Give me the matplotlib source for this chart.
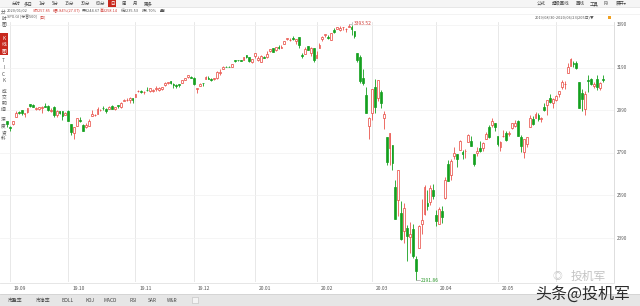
import matplotlib
matplotlib.use("Agg")
import matplotlib.pyplot as plt
from matplotlib.patches import Rectangle

plt.rcParams['font.family'] = ['Noto Sans CJK SC', 'DejaVu Sans']

# ---------------- data (S&P 500 daily, 2019/08/30 - 2020/06/23) ----------------
dates = [
 "2019-08-30",
 "2019-09-03","2019-09-04","2019-09-05","2019-09-06","2019-09-09","2019-09-10","2019-09-11","2019-09-12","2019-09-13","2019-09-16",
 "2019-09-17","2019-09-18","2019-09-19","2019-09-20","2019-09-23","2019-09-24","2019-09-25","2019-09-26","2019-09-27","2019-09-30",
 "2019-10-01","2019-10-02","2019-10-03","2019-10-04","2019-10-07","2019-10-08","2019-10-09","2019-10-10","2019-10-11","2019-10-14",
 "2019-10-15","2019-10-16","2019-10-17","2019-10-18","2019-10-21","2019-10-22","2019-10-23","2019-10-24","2019-10-25","2019-10-28",
 "2019-10-29","2019-10-30","2019-10-31",
 "2019-11-01","2019-11-04","2019-11-05","2019-11-06","2019-11-07","2019-11-08","2019-11-11","2019-11-12","2019-11-13","2019-11-14",
 "2019-11-15","2019-11-18","2019-11-19","2019-11-20","2019-11-21","2019-11-22","2019-11-25","2019-11-26","2019-11-27","2019-11-29",
 "2019-12-02","2019-12-03","2019-12-04","2019-12-05","2019-12-06","2019-12-09","2019-12-10","2019-12-11","2019-12-12","2019-12-13",
 "2019-12-16","2019-12-17","2019-12-18","2019-12-19","2019-12-20","2019-12-23","2019-12-24","2019-12-26","2019-12-27","2019-12-30",
 "2019-12-31",
 "2020-01-02","2020-01-03","2020-01-06","2020-01-07","2020-01-08","2020-01-09","2020-01-10","2020-01-13","2020-01-14","2020-01-15",
 "2020-01-16","2020-01-17","2020-01-21","2020-01-22","2020-01-23","2020-01-24","2020-01-27","2020-01-28","2020-01-29","2020-01-30",
 "2020-01-31",
 "2020-02-03","2020-02-04","2020-02-05","2020-02-06","2020-02-07","2020-02-10","2020-02-11","2020-02-12","2020-02-13","2020-02-14",
 "2020-02-18","2020-02-19","2020-02-20","2020-02-21","2020-02-24","2020-02-25","2020-02-26","2020-02-27","2020-02-28",
 "2020-03-02","2020-03-03","2020-03-04","2020-03-05","2020-03-06","2020-03-09","2020-03-10","2020-03-11","2020-03-12","2020-03-13",
 "2020-03-16","2020-03-17","2020-03-18","2020-03-19","2020-03-20","2020-03-23","2020-03-24","2020-03-25","2020-03-26","2020-03-27",
 "2020-03-30","2020-03-31",
 "2020-04-01","2020-04-02","2020-04-03","2020-04-06","2020-04-07","2020-04-08","2020-04-09","2020-04-13","2020-04-14","2020-04-15",
 "2020-04-16","2020-04-17","2020-04-20","2020-04-21","2020-04-22","2020-04-23","2020-04-24","2020-04-27","2020-04-28","2020-04-29",
 "2020-04-30",
 "2020-05-01","2020-05-04","2020-05-05","2020-05-06","2020-05-07","2020-05-08","2020-05-11","2020-05-12","2020-05-13","2020-05-14",
 "2020-05-15","2020-05-18","2020-05-19","2020-05-20","2020-05-21","2020-05-22","2020-05-26","2020-05-27","2020-05-28","2020-05-29",
 "2020-06-01","2020-06-02","2020-06-03","2020-06-04","2020-06-05","2020-06-08","2020-06-09","2020-06-10","2020-06-11","2020-06-12",
 "2020-06-15","2020-06-16","2020-06-17","2020-06-18","2020-06-19","2020-06-22","2020-06-23",
]

opens = [
 2937,
 2910,2924,2960,2980,2989,2971,2982,3019,3013,2996,2996,3001,3011,3008,2984,3003,2969,2985,2986,2967,
 2984,2925,2885,2918,2945,2920,2912,2918,2963,2966,2974,2990,3001,2996,2997,3011,2995,3014,3004,3033,3037,3039,3047,
 3051,3078,3080,3075,3087,3082,3081,3089,3084,3091,3107,3117,3127,3114,3109,3112,3117,3134,3145,3147,
 3143,3088,3104,3120,3135,3141,3135,3135,3141,3166,3183,3195,3195,3192,3224,3227,3225,3227,3247,3240,3215,
 3245,3226,3218,3241,3238,3266,3281,3271,3285,3282,3302,3324,3321,3330,3316,3334,3248,3256,3290,3257,3283,
 3236,3280,3324,3344,3335,3318,3366,3370,3365,3379,3370,3380,3380,3360,3258,3239,3140,3063,2916,
 2975,3097,3045,3076,2955,2863,2814,2825,2631,2570,2509,2425,2437,2394,2431,2291,2345,2458,2501,2556,2559,2614,
 2499,2458,2515,2579,2739,2685,2777,2783,2805,2796,2799,2843,2845,2784,2787,2811,2813,2854,2909,2919,2931,
 2869,2815,2868,2884,2879,2908,2915,2940,2865,2794,2830,2913,2948,2953,2969,2948,3004,3016,3046,3025,
 3038,3065,3098,3112,3163,3199,3213,3213,3123,3072,2994,3131,3137,3102,3136,3095,3138,
]

highs = [
 2940,
 2914,2939,2985,2985,2990,2979,3001,3021,3017,3003,3006,3008,3022,3016,2999,3008,2990,2988,2988,2983,
 2993,2925,2911,2953,2959,2925,2929,2948,2993,2972,3003,2997,3009,3000,3008,3015,3005,3016,3027,3044,3048,3050,3047,
 3067,3085,3083,3079,3098,3094,3088,3103,3098,3098,3121,3124,3127,3119,3111,3113,3133,3142,3155,3150,
 3145,3095,3120,3120,3150,3149,3143,3143,3176,3182,3198,3198,3199,3206,3226,3227,3226,3240,3248,3241,3232,
 3258,3246,3247,3244,3267,3275,3283,3288,3295,3298,3317,3330,3329,3337,3326,3334,3258,3285,3293,3286,3283,
 3268,3306,3338,3348,3341,3353,3376,3381,3385,3381,3375,3394,3389,3361,3260,3247,3182,3098,2960,
 3091,3137,3130,3083,2985,2864,2883,2825,2660,2711,2563,2553,2453,2467,2454,2307,2449,2571,2638,2616,2638,2642,
 2522,2534,2539,2676,2757,2761,2819,2783,2852,2801,2807,2880,2868,2785,2815,2844,2843,2887,2922,2954,2931,
 2869,2844,2898,2892,2892,2932,2945,2945,2875,2852,2865,2968,2964,2980,2979,2957,3022,3036,3068,3049,
 3063,3081,3131,3129,3212,3233,3223,3223,3123,3089,3079,3154,3142,3121,3156,3121,3155,
]

lows = [
 2913,
 2891,2921,2960,2972,2966,2958,2978,3003,3003,2991,2993,2979,3004,2985,2983,2957,2957,2970,2946,2967,
 2938,2874,2856,2918,2935,2892,2907,2917,2963,2963,2974,2986,2992,2977,2995,2995,2992,3001,3002,3033,3035,3026,3023,
 3051,3074,3072,3065,3080,3074,3076,3082,3079,3084,3104,3113,3114,3092,3094,3099,3117,3133,3143,3139,
 3110,3070,3102,3104,3135,3135,3126,3134,3138,3157,3183,3191,3191,3192,3216,3222,3220,3227,3235,3216,3213,
 3236,3222,3215,3233,3236,3264,3261,3268,3278,3280,3302,3318,3316,3320,3302,3281,3234,3256,3272,3243,3214,
 3236,3280,3314,3333,3323,3318,3353,3369,3361,3367,3356,3379,3341,3328,3214,3118,3108,2977,2855,
 2946,2977,3034,2999,2901,2734,2735,2707,2478,2493,2380,2367,2281,2320,2295,2192,2345,2407,2500,2520,2545,2571,
 2447,2455,2460,2574,2657,2663,2762,2722,2805,2761,2764,2842,2820,2728,2776,2794,2800,2854,2860,2913,2892,
 2822,2798,2863,2847,2870,2902,2912,2869,2794,2767,2815,2913,2922,2953,2939,2934,2988,2969,3024,2999,
 3031,3052,3090,3090,3163,3196,3193,3182,2999,2984,2966,3077,3108,3094,3083,3085,3123,
]

closes = [
 2926,
 2906,2938,2976,2979,2978,2979,3001,3010,3007,2998,3006,3007,3007,2992,2992,2967,2985,2978,2962,2977,
 2940,2888,2911,2952,2939,2893,2919,2938,2970,2966,2996,2990,2998,2986,3007,2996,3005,3010,3023,3039,3037,3047,3038,
 3067,3078,3075,3077,3085,3093,3087,3092,3094,3097,3120,3122,3120,3108,3104,3110,3134,3141,3154,3141,
 3114,3093,3113,3117,3146,3136,3133,3142,3169,3169,3191,3193,3191,3205,3221,3224,3223,3240,3240,3221,3231,
 3258,3235,3246,3237,3253,3275,3265,3288,3283,3289,3317,3330,3321,3322,3326,3295,3244,3276,3273,3284,3226,
 3249,3298,3335,3346,3328,3352,3358,3379,3374,3380,3370,3386,3373,3338,3226,3128,3116,2979,2954,
 3090,3003,3130,3024,2972,2747,2882,2741,2481,2711,2386,2529,2398,2409,2305,2237,2447,2476,2630,2541,2627,2585,
 2471,2527,2489,2664,2659,2750,2790,2762,2846,2783,2800,2875,2823,2737,2799,2798,2837,2878,2863,2940,2912,
 2831,2843,2868,2848,2881,2930,2930,2870,2820,2853,2864,2954,2923,2972,2949,2955,2992,3036,3030,3044,
 3056,3081,3123,3112,3194,3232,3207,3190,3002,3041,3067,3125,3113,3115,3098,3118,3131,
]

month_labels = ["19.09", "19.10", "19.11", "19.12", "20.01", "20.02", "20.03", "20.04", "20.05"]
y_ticks = [3390, 3190, 2990, 2790, 2590, 2390]
high_label = "3393.52"
low_label = "2191.86"

# ---------------- figure ----------------
W, H = 640, 306
fig = plt.figure(figsize=(W / 100, H / 100), dpi=100)
fig.patch.set_facecolor("white")

def fx(px):
    return px / W

def fy(py):
    return 1 - py / H

# main axes: pixel box x 0..614, y 22..282
ax_l, ax_r, ax_t, ax_b = 0, 614, 22, 282
ax = fig.add_axes([fx(ax_l), fy(ax_b), fx(ax_r - ax_l), (ax_b - ax_t) / H])
ax.set_facecolor("white")
step = 2.92
x0 = 7
ax.set_xlim(-x0 / step, (ax_r - x0) / step)
ax.set_ylim(3390 - (ax_b - 25) / 0.213, 3390 + (25 - ax_t) / 0.213)
for s in ax.spines.values():
    s.set_visible(False)
ax.set_xticks([])
ax.set_yticks([])

n = len(dates)
xs = list(range(n))

# month grid lines
month_idx = []
prev = dates[0][:7]
for i, d in enumerate(dates):
    if d[:7] != prev:
        month_idx.append(i)
        prev = d[:7]
for i in month_idx:
    ax.axvline(i, color="#e4e4e4", lw=0.6, zorder=0)
for yv in y_ticks:
    ax.axhline(yv, color="#f1f1f1", lw=0.5, zorder=0)

up_c = "#e8453c"
dn_c = "#14a01e"
bw = 0.62
for i in xs:
    o, h, l, c = opens[i], highs[i], lows[i], closes[i]
    if c >= o:
        ax.vlines(i, l, h, color=up_c, lw=0.55, zorder=2)
        ax.add_patch(Rectangle((i - bw / 2, o), bw, max(c - o, 0.8),
                               facecolor="white", edgecolor=up_c, lw=0.5, zorder=3))
    else:
        ax.vlines(i, l, h, color=dn_c, lw=0.6, zorder=2)
        ax.add_patch(Rectangle((i - bw / 2, c), bw, max(o - c, 0.8),
                               facecolor=dn_c, edgecolor=dn_c, lw=0.5, zorder=3))

# high / low annotations
ih = max(xs, key=lambda k: highs[k])
il = min(xs, key=lambda k: lows[k])
ax.plot([ih, ih + 1.2, ih + 1.2], [highs[ih], highs[ih], highs[ih] + 8], color="#999999", lw=0.4, zorder=4)
ax.text(ih + 1.8, highs[ih] + 2, high_label, fontsize=3.6, color="#d0403a", va="center", ha="left")
ax.plot([il, il + 1.3], [lows[il], lows[il]], color="#8a8a8a", lw=0.4, zorder=4)
ax.text(il + 1.7, lows[il], low_label, fontsize=3.6, color="#2f9a2f", va="center", ha="left")

# x labels (month starts)
for k, i in enumerate(month_idx[:len(month_labels)]):
    px = x0 + step * i
    fig.text(fx(px + 4), fy(288), month_labels[k], fontsize=3.6, color="#555555", va="center", ha="left")

# right axis labels & separator
fig.add_artist(plt.Line2D([fx(614), fx(614)], [fy(282), fy(22)], color="#d8d8d8", lw=0.6))
for yv in y_ticks:
    py = 25 + (3390 - yv) * 0.213
    fig.text(fx(617), fy(py), str(yv), fontsize=3.3, color="#555555", va="center", ha="left")
fig.add_artist(plt.Line2D([fx(0), fx(614)], [fy(282.5), fy(282.5)], color="#e2e2e2", lw=0.6))

# ---------------- header ----------------
hs = 2.8
fig.add_artist(Rectangle((0, fy(7)), 1, 7 / H, transform=fig.transFigure, facecolor="#f5f5f5", edgecolor="none"))
fig.add_artist(plt.Line2D([0, 1], [fy(7), fy(7)], color="#dddddd", lw=0.5))
fig.add_artist(plt.Line2D([0, 1], [fy(14), fy(14)], color="#eeeeee", lw=0.5))
tb = [("分时", 12), ("多日", 24), ("1分", 39), ("5分", 52), ("15分", 65), ("30分", 81), ("60分", 96), ("周", 122), ("月", 133), ("更多", 144)]
for t, px in tb:
    fig.text(fx(px), fy(3.5), t, fontsize=3.2, color="#444444", va="center", ha="left")
fig.add_artist(Rectangle((fx(108), fy(7)), fx(8), 7 / H, transform=fig.transFigure, facecolor="#c8281e", edgecolor="none"))
fig.text(fx(112), fy(3.5), "日", fontsize=3.2, color="white", va="center", ha="center")
tr = [("公式", 537), ("超级画线", 552), ("画线", 576), ("工具", 590), ("F9", 604), ("展开▾", 616)]
for t, px in tr:
    fig.text(fx(px), fy(3.5), t, fontsize=3.2, color="#444444", va="center", ha="left")

info = [("2020/01/02", 7, "#555555"), ("收3257.85", 33, "#d0403a"), ("幅0.84%(27.07)", 53, "#d0403a"),
        ("开3244.67", 82, "#555555"), ("高3258.14", 100, "#d0403a"), ("低3235.53", 121, "#555555"),
        ("振0.70%", 142, "#555555"), ("量0", 160, "#555555")]
for t, px, col in info:
    fig.text(fx(px), fy(10.5), t, fontsize=hs, color=col, va="center", ha="left")

fig.text(fx(7), fy(17.5), "SPX.GI [标普500]", fontsize=hs, color="#555555", va="center", ha="left")
fig.text(fx(40), fy(17.5), "[日]", fontsize=hs, color="#d0403a", va="center", ha="left")
fig.text(fx(535), fy(17.5), "2019/08/30-2020/06/23(205日)▼", fontsize=hs, color="#555555", va="center", ha="left")
fig.add_artist(Rectangle((fx(608), fy(19.2)), fx(3), 3 / H, transform=fig.transFigure, facecolor="#f0a020", edgecolor="none"))

# ---------------- left sidebar ----------------
ss = 3.4
for k, ch in enumerate("分时图"):
    fig.text(fx(3.5), fy(12 + k * 6.0), ch, fontsize=ss, color="#555555", va="center", ha="center")
fig.add_artist(Rectangle((0, fy(55)), fx(7.5), 22 / H, transform=fig.transFigure, facecolor="#c8281e", edgecolor="none"))
for k, ch in enumerate("K线图"):
    fig.text(fx(3.7), fy(38 + k * 6.3), ch, fontsize=ss, color="white", va="center", ha="center")
for k, ch in enumerate("TICK"):
    fig.text(fx(3.7), fy(61 + k * 6.5), ch, fontsize=ss, color="#555555", va="center", ha="center")
for k, ch in enumerate("成交明细"):
    fig.text(fx(3.7), fy(91 + k * 6.2), ch, fontsize=ss, color="#555555", va="center", ha="center")
for k, ch in enumerate("深度资料"):
    fig.text(fx(3.7), fy(120 + k * 6.2), ch, fontsize=ss, color="#555555", va="center", ha="center")

# ---------------- bottom toolbar ----------------
fig.add_artist(Rectangle((0, 0), 1, 12 / H, transform=fig.transFigure, facecolor="#e6e6e6", edgecolor="none"))
fig.add_artist(plt.Line2D([0, 1], [fy(294), fy(294)], color="#cfcfcf", lw=0.5))
bt = [("市盈率", 8), ("市净率", 36), ("BOLL", 62), ("KDJ", 86), ("MACD", 104), ("RSI", 130), ("SAR", 148), ("W&R", 167)]
for t, px in bt:
    fig.text(fx(px), fy(300), t, fontsize=3.5, color="#444444", va="center", ha="left")
fig.add_artist(Rectangle((fx(192), fy(303)), fx(6), 6 / H, transform=fig.transFigure, facecolor="#f4f4f4", edgecolor="#bdbdbd", lw=0.4))

# ---------------- watermarks ----------------
fig.text(fx(588), fy(276), "投机军", fontsize=8.5, color="#c4c4c4", va="center", ha="center")
fig.text(fx(557), fy(276), "◎", fontsize=7, color="#c4c4c4", va="center", ha="center")
fig.text(fx(583), fy(294), "头条@投机军", fontsize=11.5, color="#2b2b2b", va="center", ha="center")

fig.savefig("out.png", dpi=100)
